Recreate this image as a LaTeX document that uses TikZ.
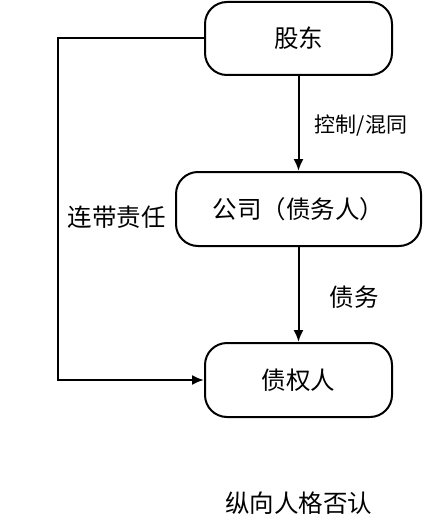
\documentclass[tikz,border=0pt]{standalone}
\usepackage{fontspec}
\setmainfont{Noto Sans CJK SC}
\usetikzlibrary{arrows.meta}

\begin{document}
\begin{tikzpicture}[x=1pt,y=-1pt,
  box/.style={draw,line width=2pt,rounded corners=22pt,align=center,inner sep=0pt,
    font=\fontsize{24.5}{28}\selectfont},
  lab/.style={font=\fontsize{24.5}{28}\selectfont},
  line/.style={line width=2pt,>={Latex[length=12pt,width=10pt]}}]
\useasboundingbox (0,0) rectangle (442,532);

\node[box,minimum width=187pt,minimum height=73pt] (N1) at (298.5,38.5) {股东};
\node[box,minimum width=245pt,minimum height=74pt] (N2) at (298.5,209) {公司（债务人）};
\node[box,minimum width=187pt,minimum height=74pt] (N3) at (298.5,380) {债权人};

\coordinate (C1) at (58,38.5);

\path[->,line] (N1) edge [] node[]{} (N2);
\path[->,line] (N2) edge [] node[]{} (N3);
\draw[->,line] (N1.west) -- (C1) |- (N3.west);

\node[font=\fontsize{21}{24}\selectfont] (L1) at (361,126) {控制/混同};
\node[lab] (L2) at (354,297) {债务};
\node[lab] (L3) at (116.5,217) {连带责任};
\node[lab] (L4) at (298.5,503) {纵向人格否认};
\end{tikzpicture}
\end{document}
